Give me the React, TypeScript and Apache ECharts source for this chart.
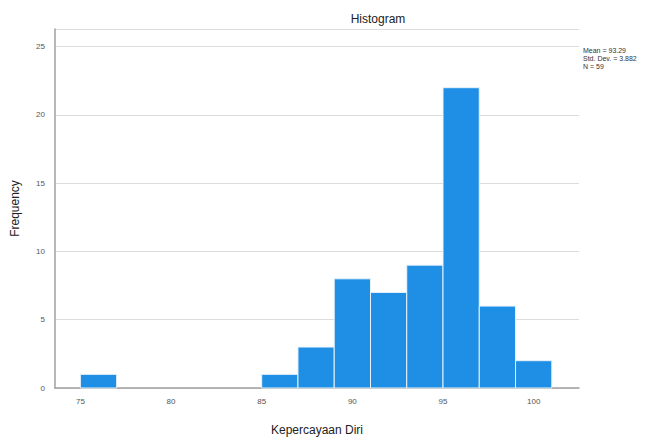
import React, { useEffect, useRef } from "react";
import * as echarts from "echarts";

const binStarts = [75, 85, 87, 89, 91, 93, 95, 97, 99];
const binWidth = 2;
const counts = [1, 1, 3, 8, 7, 9, 22, 6, 2];
const xTicks = [75, 80, 85, 90, 95, 100];
const statsLines = ["Mean = 93.29", "Std. Dev. = 3.882", "N = 59"];

export default function App() {
  const ref = useRef<HTMLDivElement>(null);
  useEffect(() => {
    if (!ref.current) return;
    const chart = echarts.init(ref.current, null, { renderer: "svg" });
    const data = binStarts.map((s, i) => [s, s + binWidth, counts[i]]);
    chart.setOption({
      animation: false,
      backgroundColor: "#ffffff",
      title: {
        text: "Histogram",
        left: 373,
        top: 8,
        textAlign: "center",
        textStyle: { fontFamily: "Arial, Liberation Sans", fontSize: 12, fontWeight: "normal", color: "#222" },
      },
      grid: { left: 55, right: 78, top: 29, bottom: 46, containLabel: false },
      xAxis: {
        type: "value",
        min: 73.6,
        max: 102.5,
        name: "Kepercayaan Diri",
        nameLocation: "middle",
        nameGap: 36,
        nameTextStyle: { fontFamily: "Arial, Liberation Sans", fontSize: 12, color: "#222" },
        axisLine: { show: true, lineStyle: { color: "#a0a0a0", width: 1.5 } },
        axisTick: { show: false },
        splitLine: { show: false },
        axisLabel: {
          fontFamily: "Arial, Liberation Sans",
          fontSize: 8,
          color: "#555",
          margin: 9,
          customValues: xTicks,
        },
      },
      yAxis: {
        type: "value",
        min: 0,
        max: 26.3,
        interval: 5,
        name: "Frequency",
        nameLocation: "middle",
        nameGap: 34,
        nameTextStyle: { fontFamily: "Arial, Liberation Sans", fontSize: 12, color: "#222" },
        axisLine: { show: true, lineStyle: { color: "#a0a0a0", width: 1.5 } },
        axisTick: { show: false },
        splitLine: { show: true, lineStyle: { color: "#dcdcdc", width: 1.2 } },
        axisLabel: {
          fontFamily: "Arial, Liberation Sans",
          fontSize: 8,
          color: "#555",
          margin: 10,
          showMaxLabel: false,
          formatter: (v: number) => (v % 5 === 0 && v <= 25 ? String(v) : ""),
        },
      },
      series: [
        {
          type: "custom",
          data,
          encode: { x: [0, 1], y: 2 },
          renderItem: (params: any, api: any) => {
            const p0 = api.coord([api.value(0), api.value(2)]);
            const p1 = api.coord([api.value(1), 0]);
            return {
              type: "rect",
              shape: { x: p0[0], y: p0[1], width: p1[0] - p0[0], height: p1[1] - p0[1] },
              style: { fill: "#1e8fe4", stroke: "#e8f2fb", lineWidth: 1 },
            };
          },
        },
      ],
      graphic: statsLines.map((t, i) => ({
        type: "text",
        left: 583,
        top: 47 + i * 8,
        style: { text: t, fontFamily: "Arial, Liberation Sans", fontSize: 7, fill: "#333" },
      })),
    });
    return () => chart.dispose();
  }, []);
  return (
    <div
      ref={ref}
      style={{ position: "fixed", left: 0, top: 0, width: 657, height: 441 }}
    />
  );
}
